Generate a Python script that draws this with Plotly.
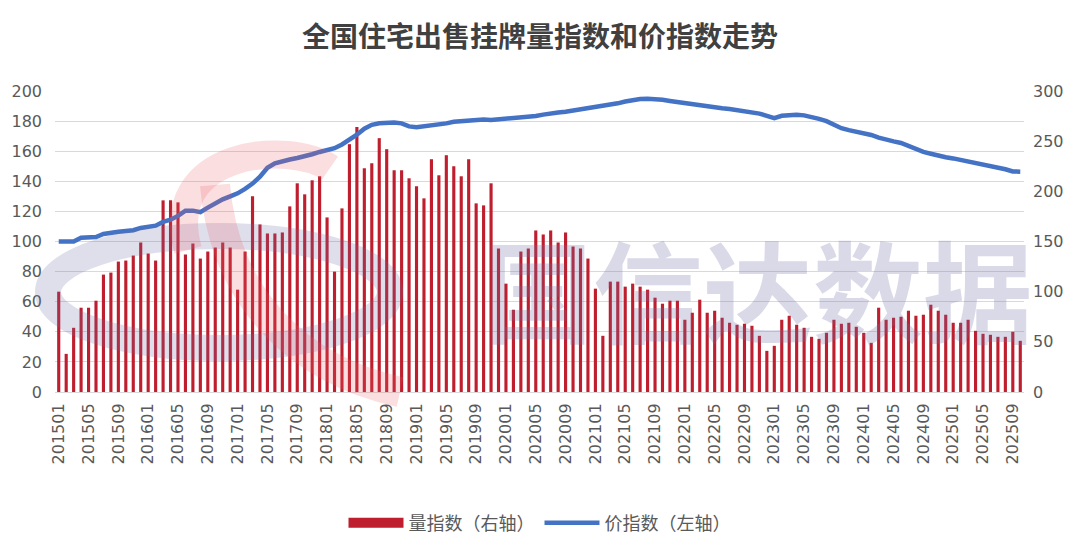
import plotly.graph_objects as go

# ---- data ----
months = [f"{y}{m:02d}" for y in range(2015, 2026) for m in range(1, 13)][:130]
tick_labels = months[::4]

volume_index = [
    100, 38, 64, 84, 84, 91, 117, 119, 130, 131, 136, 149,
    138, 131, 191, 191, 189, 137, 148, 133, 140, 144, 149, 144,
    102, 140, 195, 167, 158, 158, 159, 185, 208, 197, 211, 215,
    174, 120, 183, 247, 264, 223, 228, 253, 242, 221, 221, 213,
    205, 193, 232, 216, 236, 225, 215, 232, 188, 186, 208, 143,
    108, 82, 140, 143, 161, 157, 161, 149, 159, 145, 143, 133,
    103, 56, 110, 110, 105, 108, 105, 102, 94, 88, 91, 91,
    72, 79, 92, 79, 81, 74, 69, 67, 68, 66, 56, 41,
    46, 72, 76, 67, 64, 55, 53, 59, 72, 68, 69, 65,
    59, 49, 84, 72, 74, 75, 81, 76, 77, 87, 81, 77,
    69, 69, 72, 61, 58, 57, 55, 55, 60, 51,
]

price_index = [
    100, 100, 100, 102.5, 103, 103, 105, 106, 106.5, 107, 107.5, 109,
    110, 110.5, 113, 114.5, 117, 120.5, 120.5, 119.5, 122.5, 125.5, 128, 130,
    132, 135, 138.5, 143, 149, 152, 153.5, 154.5, 155.5, 156.5, 158, 159.5,
    160.5, 162, 164.5, 167.5, 171, 175, 177.5, 178.5, 179, 179, 178.5, 176.5,
    176, 176.5, 177.5, 178, 178.5, 179.5, 180, 180.5, 181, 181, 180.8, 181.2,
    181.5, 181.8, 182.3, 182.8, 183.4, 184.3, 185.2, 185.7, 186.2, 187, 187.6, 188.3,
    189, 189.6, 190.6, 191.8, 193, 194.2, 194.7, 194.8, 194.7, 194.2, 193.4, 192.6,
    191.8, 191.2, 190.4, 189.8, 189, 188.5, 188, 187.4, 186.5, 185.8, 185, 183.5,
    182, 183.5, 184.2, 184.2, 183.8, 182.8, 181.5, 180, 177.8, 175.3, 174, 173,
    172, 170.8, 169, 167.5, 166.5, 165.5, 163.5, 161.2, 159.5, 158.3, 157, 156,
    155.2, 154.2, 153.2, 152.3, 151.2, 150.2, 149, 148, 146.5, 146.4,
]

left_ticks = list(range(0, 201, 20))
right_ticks = list(range(0, 301, 50))

title_text = "全国住宅出售挂牌量指数和价指数走势"
bar_name = "量指数（右轴）"
line_name = "价指数（左轴）"
watermark_text = "国信达数据"

BAR_COLOR = "#BE1E2D"
LINE_COLOR = "#4472C4"
TEXT_COLOR = "#595959"
GRID_COLOR = "#D9D9D9"
FONT = "DejaVu Sans"

W, H = 1080, 560
ML, MR, MT, MB = 55, 56, 91, 168
PW, PH = W - ML - MR, H - MT - MB


def to_paper(px, py):
    """pixel position -> paper fraction (used only for the watermark logo)"""
    return (px - ML) / PW, 1 - (py - MT) / PH


def path_from(cmds):
    out = []
    for c, pts in cmds:
        coords = " ".join("%.4f,%.4f" % to_paper(*p) for p in pts)
        out.append(f"{c}{coords}")
    return " ".join(out)


fig = go.Figure()

fig.add_trace(go.Bar(
    x=months, y=volume_index, name=bar_name, yaxis="y",
    marker=dict(color=BAR_COLOR, line=dict(width=0)),
    showlegend=False,
))
# legend proxy for the bars (wide swatch like the original)
fig.add_trace(go.Scatter(
    x=[None], y=[None], name=bar_name, yaxis="y", mode="lines",
    line=dict(color=BAR_COLOR, width=14),
))
fig.add_trace(go.Scatter(
    x=months, y=price_index, name=line_name, yaxis="y2", mode="lines",
    line=dict(color=LINE_COLOR, width=4.5),
))

# faint watermark logo (decoration only)
x0, y0 = to_paper(48, 236)
x1, y1 = to_paper(390, 348)
ring = dict(type="circle", xref="paper", yref="paper", x0=x0, y0=y1, x1=x1, y1=y0,
            line=dict(color="rgba(110,110,165,0.22)", width=26), layer="above")
swoosh = dict(
    type="path", xref="paper", yref="paper", layer="above",
    path=path_from([("M", [(188, 250)]), ("C", [(160, 150), (290, 140), (330, 168)])]),
    line=dict(color="rgba(235,90,100,0.20)", width=28),
)
swoosh2 = dict(
    type="path", xref="paper", yref="paper", layer="above",
    path=path_from([("M", [(215, 185)]), ("C", [(225, 300), (300, 370), (400, 392)])]),
    line=dict(color="rgba(235,90,100,0.20)", width=30),
)

fig.update_layout(
    width=W, height=H,
    paper_bgcolor="white", plot_bgcolor="white",
    margin=dict(l=ML, r=MR, t=MT, b=MB, autoexpand=False),
    font=dict(family=FONT, color=TEXT_COLOR, size=16),
    bargap=0.58,
    title=dict(
        text=f"<b>{title_text}</b>", x=0.5, xanchor="center",
        y=1 - 37 / H, yanchor="middle", yref="container",
        font=dict(family="Noto Sans CJK SC", size=28, color="#404040"),
    ),
    xaxis=dict(
        type="category", tickmode="array", tickvals=tick_labels,
        ticktext=tick_labels, tickangle=-90, showgrid=False,
        showline=True, linecolor=GRID_COLOR, linewidth=1,
        ticks="", tickfont=dict(size=16, color=TEXT_COLOR),
        ticklabelstandoff=4, automargin=False,
    ),
    yaxis=dict(
        side="right", range=[0, 300], tickvals=right_ticks,
        showgrid=False, zeroline=False, ticks="",
        tickfont=dict(size=16, color=TEXT_COLOR),
        ticklabelstandoff=8, automargin=False,
    ),
    yaxis2=dict(
        side="left", overlaying="y", range=[0, 200], tickvals=left_ticks,
        showgrid=True, gridcolor=GRID_COLOR, gridwidth=1, zeroline=False,
        ticks="", tickfont=dict(size=16, color=TEXT_COLOR),
        ticklabelstandoff=12, automargin=False,
    ),
    legend=dict(
        orientation="h", x=0.5, xanchor="center", xref="paper",
        y=1 - 523 / H, yanchor="middle", yref="container",
        font=dict(family="Noto Sans CJK SC", size=18, color=TEXT_COLOR),
        itemwidth=55, traceorder="normal",
    ),
    shapes=[ring, swoosh, swoosh2],
    annotations=[dict(
        text=f"<b>{watermark_text}</b>", xref="paper", yref="paper",
        x=0.7255, y=0.349, xanchor="center", yanchor="middle",
        showarrow=False,
        font=dict(family="Noto Sans CJK SC", size=110, color="rgba(110,110,165,0.26)"),
    )],
)

fig.write_html(
    "out.html",
    config={"displayModeBar": False},
    post_script="document.body.style.margin='0';",
)
